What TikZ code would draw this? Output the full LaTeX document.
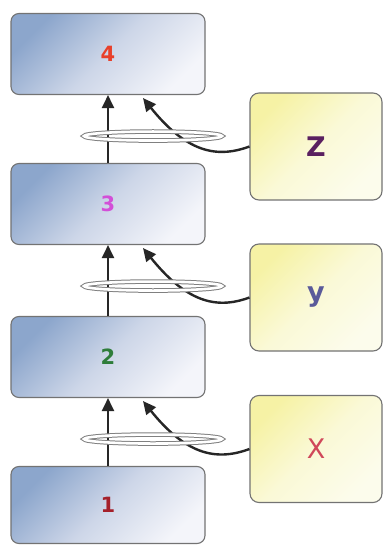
\documentclass[tikz,border=0pt]{standalone}
\usepackage{fontspec}
\setmainfont{DejaVu Sans}
\usetikzlibrary{arrows.meta,calc}
\definecolor{boxblue}{RGB}{140,166,204}
\definecolor{boxmid}{RGB}{205,214,232}
\definecolor{boxlight}{RGB}{244,245,250}
\definecolor{ylw}{RGB}{246,242,165}
\definecolor{ylwlight}{RGB}{252,252,236}
\definecolor{cfour}{RGB}{232,64,42}
\definecolor{cthree}{RGB}{211,79,216}
\definecolor{ctwo}{RGB}{46,125,58}
\definecolor{cone}{RGB}{165,32,42}
\definecolor{cz}{RGB}{90,32,96}
\definecolor{cy}{RGB}{90,90,154}
\definecolor{cx}{RGB}{208,72,90}
\tikzset{
  layerbox/.style={draw=black!55, line width=1.1pt, rounded corners=8pt,
    minimum width=194pt, minimum height=81pt, inner sep=0pt,
    top color=boxblue, bottom color=boxlight, middle color=boxmid, shading angle=45,
    font=\fontsize{21}{25}\selectfont\bfseries},
  inputbox/.style={draw=black!55, line width=1.1pt, rounded corners=9pt,
    minimum width=132pt, minimum height=107pt, inner sep=0pt,
    top color=ylw, bottom color=ylwlight, middle color=ylwlight!70!ylw, shading angle=45,
    font=\fontsize{27}{32}\selectfont},
  flow/.style={line width=2.4pt, black!85, -{Triangle[length=13pt,width=12pt]}},
  ring/.style={draw=black!50, line width=1pt, double=white, double distance=2.6pt},
}
\begin{document}
\begin{tikzpicture}[x=1pt,y=-1pt]
\useasboundingbox (0,0) rectangle (385,545);
\fill[white] (0,0) rectangle (385,545);
\node[layerbox] (b4) at (108,54) {\textcolor{cfour}{4}};
\node[layerbox] (b3) at (108,204) {\textcolor{cthree}{3}};
\node[layerbox] (b2) at (108,357) {\textcolor{ctwo}{2}};
\node[layerbox, minimum height=77pt] (b1) at (108,505) {\textcolor{cone}{1}};
\node[inputbox] (z) at (316,146.5) {\textcolor{cz}{\bfseries Z}};
\node[inputbox] (y) at (316,297.5) {\textcolor{cy}{\bfseries y}};
\node[inputbox] (x) at (316,449) {\textcolor{cx}{X}};
\foreach \lo/\hi/\inp in {b3/b4/z, b2/b3/y, b1/b2/x}{
  \coordinate (t\hi) at ($(\hi.south)+(35,3)$);
  \draw[flow] (\lo.north) -- (\hi.south);
  \draw[flow] (\inp.west) .. controls +(-35,13) and +(42,52) .. (t\hi);
  \draw[ring] ($(\hi.south)+(45,41)$) ellipse [x radius=69pt, y radius=4.5pt];
}
\end{tikzpicture}
\end{document}
